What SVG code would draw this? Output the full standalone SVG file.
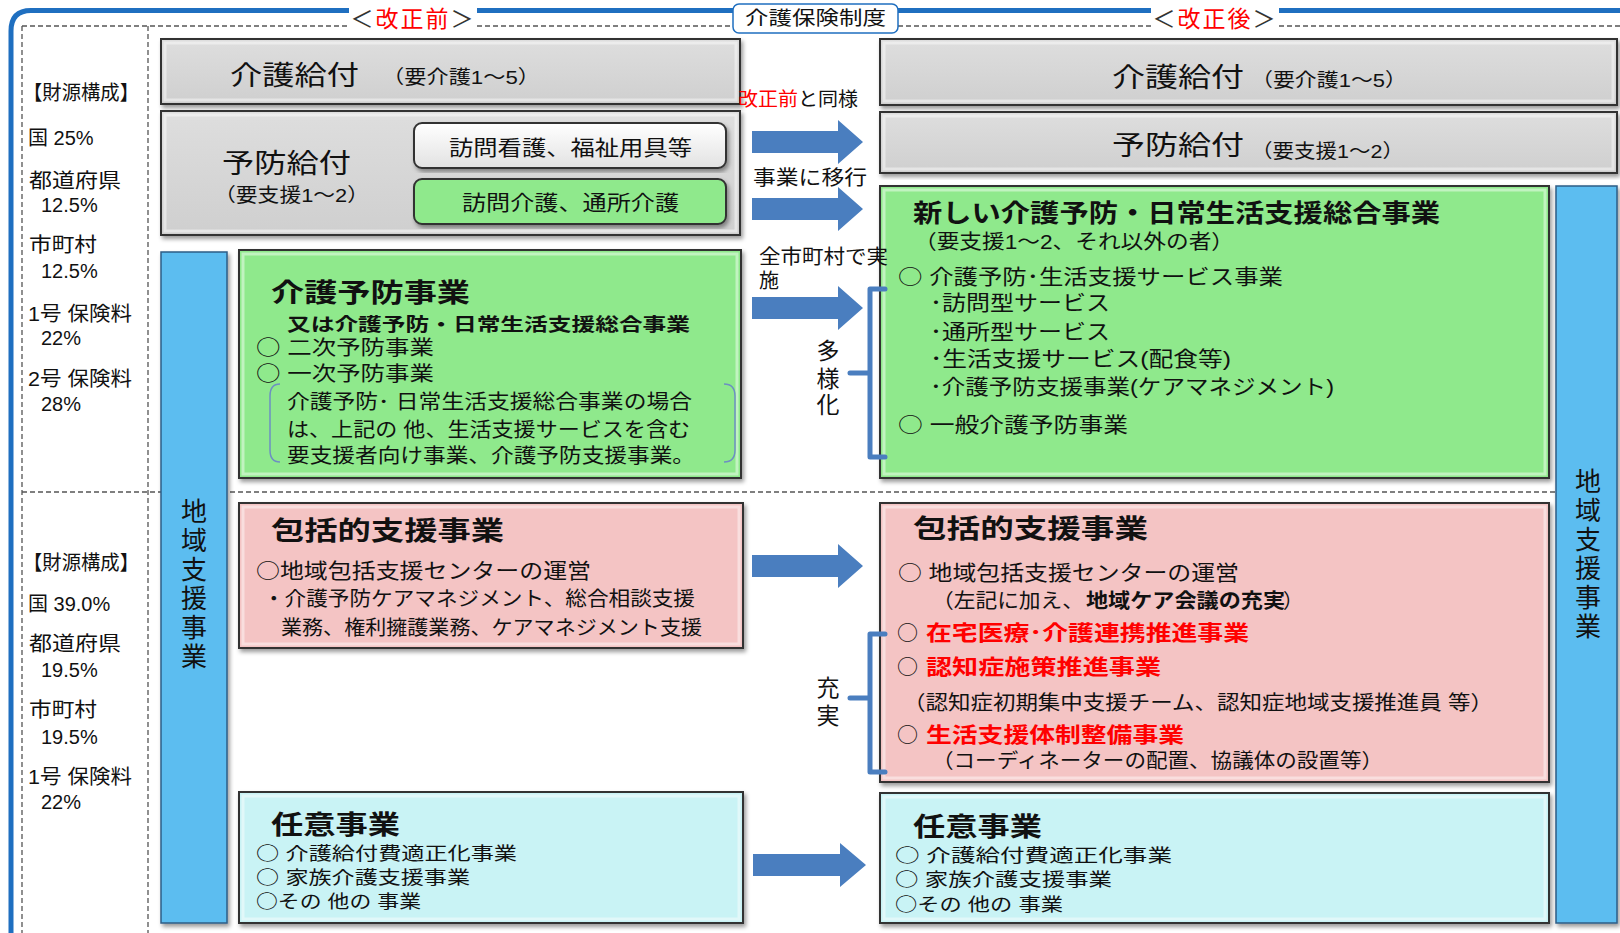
<svg xmlns="http://www.w3.org/2000/svg" width="1620" height="933" viewBox="0 0 1620 933">
<style>
text{font-family:"Liberation Sans","Noto Sans CJK JP",sans-serif;fill:#111}
.cj{font-family:"Noto Sans CJK JP","Liberation Sans",sans-serif;font-weight:normal;fill:#111}
.s18{font-size:18px}.s20{font-size:20px}.s21{font-size:21px}.s19{font-size:19px}
.b{font-weight:bold}
.big{font-size:27px}
.ttl{font-size:26px;font-weight:bold}
.red{fill:#ff0000;font-weight:bold}
.box{stroke:#333;stroke-width:2;filter:url(#sh)}
.bev{fill:none;stroke:#fff;stroke-opacity:.45;stroke-width:3}
.gray{fill:url(#gg)}
.green{fill:#8fe98c}
.pink{fill:#f4c4c4}
.cyan{fill:#c9f3f5}
.bar{fill:#5bbdf0;stroke:#2d5d86;stroke-width:1.5;filter:url(#sh)}
.dash{stroke:#555;stroke-width:1.3;stroke-dasharray:5 3;fill:none}
.arr{fill:#4a7ebf}
.brk{fill:none;stroke:#4a7ebf;stroke-width:5;stroke-linejoin:round;stroke-linecap:round}
.vt{font-size:26px;text-anchor:middle}
</style>
<defs>
<filter id="sh" x="-5%" y="-5%" width="115%" height="115%">
<feDropShadow dx="2" dy="3" stdDeviation="2" flood-color="#000" flood-opacity="0.4"/>
</filter>
<linearGradient id="gg" x1="0" y1="0" x2="0" y2="1">
<stop offset="0" stop-color="#dedede"/><stop offset="1" stop-color="#cfcfcf"/>
</linearGradient>
<linearGradient id="wg" x1="0" y1="0" x2="0" y2="1">
<stop offset="0" stop-color="#ffffff"/><stop offset="1" stop-color="#e2e2e2"/>
</linearGradient>
</defs>
<rect width="1620" height="933" fill="#fff"/>

<g id="frame">
<path d="M11,933 V31 Q11,10.5 31,10.5 H349" fill="none" stroke="#1f6fc0" stroke-width="5"/>
<path d="M477,10.5 H733 M898,10.5 H1151 M1279,10.5 H1620" fill="none" stroke="#1f6fc0" stroke-width="5"/>
<path class="dash" d="M22,26 H349 M477,26 H733 M898,26 H1151 M1279,26 H1620"/>
<path class="dash" d="M22,26 V933 M148,26 V933 M22,492 H1556"/>
</g>

<g id="top-labels">
<text x="413" y="27" text-anchor="middle" letter-spacing="2" style="font-size:23px"><tspan fill="#333">＜</tspan><tspan fill="#ff0000">改正前</tspan><tspan fill="#333">＞</tspan></text>
<g id="seido">
<rect x="733" y="4" width="165" height="29" rx="6" fill="#fff" stroke="#1f6fc0" stroke-width="1.5"/>
<text class="s19" x="745" y="25" textLength="141" lengthAdjust="spacingAndGlyphs">介護保険制度</text>
</g>
<text x="1215" y="27" text-anchor="middle" letter-spacing="2" style="font-size:23px"><tspan fill="#333">＜</tspan><tspan fill="#ff0000">改正後</tspan><tspan fill="#333">＞</tspan></text>
</g>

<g id="finance-top" class="s20">
<text x="23" y="100" textLength="116" lengthAdjust="spacingAndGlyphs">【財源構成】</text>
<text x="28" y="145">国  25%</text>
<text x="29" y="188" textLength="92" lengthAdjust="spacingAndGlyphs">都道府県</text>
<text x="41" y="212">12.5%</text>
<text x="29" y="252" textLength="68" lengthAdjust="spacingAndGlyphs">市町村</text>
<text x="41" y="278">12.5%</text>
<text x="28" y="321" textLength="104" lengthAdjust="spacingAndGlyphs">1号 保険料</text>
<text x="41" y="345">22%</text>
<text x="28" y="386" textLength="104" lengthAdjust="spacingAndGlyphs">2号 保険料</text>
<text x="41" y="411">28%</text>
</g>
<g id="finance-bottom" class="s20">
<text x="23" y="570" textLength="116" lengthAdjust="spacingAndGlyphs">【財源構成】</text>
<text x="28" y="611">国  39.0%</text>
<text x="29" y="651" textLength="92" lengthAdjust="spacingAndGlyphs">都道府県</text>
<text x="41" y="677">19.5%</text>
<text x="29" y="717" textLength="68" lengthAdjust="spacingAndGlyphs">市町村</text>
<text x="41" y="744">19.5%</text>
<text x="28" y="784" textLength="104" lengthAdjust="spacingAndGlyphs">1号 保険料</text>
<text x="41" y="809">22%</text>
</g>

<g id="L-kaigo">
<rect class="box gray" x="161" y="39" width="579" height="65"/>
<rect class="bev" x="165" y="43" width="571" height="57"/>
<text class="big" x="230" y="85" textLength="129" lengthAdjust="spacingAndGlyphs">介護給付</text>
<text class="s19" x="382" y="84" textLength="158" lengthAdjust="spacingAndGlyphs">（要介護1～5）</text>
</g>
<g id="L-yobo">
<rect class="box gray" x="161" y="111" width="579" height="124"/>
<rect class="bev" x="165" y="115" width="571" height="116"/>
<text class="big" x="222" y="173" textLength="129" lengthAdjust="spacingAndGlyphs">予防給付</text>
<text class="s19" x="214" y="202" textLength="155" lengthAdjust="spacingAndGlyphs">（要支援1～2）</text>
</g>
<g id="btn-white">
<rect x="414" y="123" width="312" height="45" rx="8" fill="url(#wg)" stroke="#333" stroke-width="2" filter="url(#sh)"/>
<text class="s21" x="449" y="155" textLength="243" lengthAdjust="spacingAndGlyphs">訪問看護、福祉用具等</text>
</g>
<g id="btn-green">
<rect x="414" y="179" width="312" height="45" rx="8" fill="#8fe98c" stroke="#333" stroke-width="2" filter="url(#sh)"/>
<text class="s21" x="462" y="210" textLength="217" lengthAdjust="spacingAndGlyphs">訪問介護、通所介護</text>
</g>

<g id="R-kaigo">
<rect class="box gray" x="880" y="39" width="737" height="66"/>
<rect class="bev" x="884" y="43" width="729" height="58"/>
<text class="big" x="1112" y="87" textLength="132" lengthAdjust="spacingAndGlyphs">介護給付</text>
<text class="s19" x="1251" y="87" textLength="156" lengthAdjust="spacingAndGlyphs">（要介護1～5）</text>
</g>
<g id="R-yobo">
<rect class="box gray" x="880" y="112" width="737" height="61"/>
<rect class="bev" x="884" y="116" width="729" height="53"/>
<text class="big" x="1112" y="155" textLength="132" lengthAdjust="spacingAndGlyphs">予防給付</text>
<text class="s19" x="1251" y="158" textLength="153" lengthAdjust="spacingAndGlyphs">（要支援1～2）</text>
</g>

<g id="L-bar">
<rect class="bar" x="161" y="252" width="66" height="671"/>
<text class="vt" x="194" y="521">地</text>
<text class="vt" x="194" y="550">域</text>
<text class="vt" x="194" y="579">支</text>
<text class="vt" x="194" y="608">援</text>
<text class="vt" x="194" y="637">事</text>
<text class="vt" x="194" y="666">業</text>
</g>
<g id="R-bar">
<rect class="bar" x="1556" y="186" width="61" height="737"/>
<text class="vt" x="1588" y="491">地</text>
<text class="vt" x="1588" y="520">域</text>
<text class="vt" x="1588" y="549">支</text>
<text class="vt" x="1588" y="578">援</text>
<text class="vt" x="1588" y="607">事</text>
<text class="vt" x="1588" y="636">業</text>
</g>

<g id="L-yobojigyo">
<rect class="box green" x="239" y="250" width="502" height="228"/>
<rect class="bev" x="243" y="254" width="494" height="220"/>
<text class="ttl" x="271" y="302" textLength="199" lengthAdjust="spacingAndGlyphs">介護予防事業</text>
<text class="b" x="287" y="331" style="font-size:18px" textLength="403" lengthAdjust="spacingAndGlyphs">又は介護予防・日常生活支援総合事業</text>
<text class="s20" x="256" y="355" textLength="178" lengthAdjust="spacingAndGlyphs"><tspan class="cj">○</tspan> 二次予防事業</text>
<text class="s20" x="256" y="381" textLength="178" lengthAdjust="spacingAndGlyphs"><tspan class="cj">○</tspan> 一次予防事業</text>
<path d="M280,384 Q270,384 270,396 V450 Q270,462 280,462 M724,384 Q735,384 735,396 V450 Q735,462 724,462" fill="none" stroke="#6d8fc2" stroke-width="1.5"/>
<text class="s20" x="287" y="409" textLength="405" lengthAdjust="spacingAndGlyphs">介護予防･ 日常生活支援総合事業の場合</text>
<text class="s20" x="287" y="437" textLength="403" lengthAdjust="spacingAndGlyphs">は、上記の 他、生活支援サービスを含む</text>
<text class="s20" x="287" y="463" textLength="408" lengthAdjust="spacingAndGlyphs">要支援者向け事業、介護予防支援事業。</text>
</g>

<g id="R-sogo">
<rect class="box green" x="880" y="186" width="669" height="292"/>
<rect class="bev" x="884" y="190" width="661" height="284"/>
<text class="b" x="913" y="222" style="font-size:25px" textLength="527" lengthAdjust="spacingAndGlyphs">新しい介護予防・日常生活支援総合事業</text>
<text class="s20" x="914" y="249" textLength="320" lengthAdjust="spacingAndGlyphs">（要支援1～2、それ以外の者）</text>
<text class="s21" x="898" y="284" textLength="385" lengthAdjust="spacingAndGlyphs"><tspan class="cj">○</tspan> 介護予防･生活支援サービス事業</text>
<text class="s21" x="930" y="310" textLength="180" lengthAdjust="spacingAndGlyphs">･訪問型サービス</text>
<text class="s21" x="930" y="339" textLength="180" lengthAdjust="spacingAndGlyphs">･通所型サービス</text>
<text class="s21" x="930" y="366" textLength="301" lengthAdjust="spacingAndGlyphs">･生活支援サービス(配食等)</text>
<text class="s21" x="930" y="394" textLength="404" lengthAdjust="spacingAndGlyphs">･介護予防支援事業(ケアマネジメント)</text>
<text class="s21" x="898" y="432" textLength="230" lengthAdjust="spacingAndGlyphs"><tspan class="cj">○</tspan> 一般介護予防事業</text>
</g>

<g id="L-hokatsu">
<rect class="box pink" x="239" y="503" width="504" height="145"/>
<rect class="bev" x="243" y="507" width="496" height="137"/>
<text class="ttl" x="271" y="540" textLength="233" lengthAdjust="spacingAndGlyphs">包括的支援事業</text>
<text class="s21" x="256" y="578" textLength="335" lengthAdjust="spacingAndGlyphs"><tspan class="cj">○</tspan>地域包括支援センターの運営</text>
<text class="s20" x="263" y="606" textLength="432" lengthAdjust="spacingAndGlyphs">・介護予防ケアマネジメント、総合相談支援</text>
<text class="s20" x="281" y="635" textLength="421" lengthAdjust="spacingAndGlyphs">業務、権利擁護業務、ケアマネジメント支援</text>
</g>

<g id="R-hokatsu">
<rect class="box pink" x="880" y="503" width="669" height="279"/>
<rect class="bev" x="884" y="507" width="661" height="271"/>
<text class="ttl" x="913" y="538" textLength="235" lengthAdjust="spacingAndGlyphs">包括的支援事業</text>
<text class="s21" x="898" y="580" textLength="341" lengthAdjust="spacingAndGlyphs"><tspan class="cj">○</tspan> 地域包括支援センターの運営</text>
<text class="s20" x="932" y="608" textLength="152" lengthAdjust="spacingAndGlyphs">（左記に加え、</text>
<text class="s20 b" x="1086" y="608" textLength="199" lengthAdjust="spacingAndGlyphs">地域ケア会議の充実</text>
<text class="s20" x="1283" y="608">）</text>
<text class="s21 cj" x="897" y="640">○</text>
<text class="s21 red" x="926" y="640" textLength="323" lengthAdjust="spacingAndGlyphs">在宅医療･介護連携推進事業</text>
<text class="s21 cj" x="897" y="674">○</text>
<text class="s21 red" x="926" y="674" textLength="235" lengthAdjust="spacingAndGlyphs">認知症施策推進事業</text>
<text class="s20" x="903" y="710" textLength="590" lengthAdjust="spacingAndGlyphs">（認知症初期集中支援チーム、認知症地域支援推進員 等）</text>
<text class="s21 cj" x="897" y="742">○</text>
<text class="s21 red" x="926" y="742" textLength="258" lengthAdjust="spacingAndGlyphs">生活支援体制整備事業</text>
<text class="s20" x="932" y="768" textLength="451" lengthAdjust="spacingAndGlyphs">（コーディネーターの配置、協議体の設置等）</text>
</g>

<g id="L-nini">
<rect class="box cyan" x="239" y="792" width="504" height="131"/>
<rect class="bev" x="243" y="796" width="496" height="123"/>
<text class="ttl" x="271" y="834" textLength="129" lengthAdjust="spacingAndGlyphs">任意事業</text>
<text class="s18" x="256" y="860" textLength="261" lengthAdjust="spacingAndGlyphs"><tspan class="cj">○</tspan> 介護給付費適正化事業</text>
<text class="s18" x="256" y="884" textLength="214" lengthAdjust="spacingAndGlyphs"><tspan class="cj">○</tspan> 家族介護支援事業</text>
<text class="s18" x="256" y="908" textLength="165" lengthAdjust="spacingAndGlyphs"><tspan class="cj">○</tspan>その 他の 事業</text>
</g>
<g id="R-nini">
<rect class="box cyan" x="880" y="793" width="669" height="130"/>
<rect class="bev" x="884" y="797" width="661" height="122"/>
<text class="ttl" x="913" y="836" textLength="129" lengthAdjust="spacingAndGlyphs">任意事業</text>
<text class="s18" x="895" y="862" textLength="277" lengthAdjust="spacingAndGlyphs"><tspan class="cj">○</tspan> 介護給付費適正化事業</text>
<text class="s18" x="895" y="886" textLength="217" lengthAdjust="spacingAndGlyphs"><tspan class="cj">○</tspan> 家族介護支援事業</text>
<text class="s18" x="895" y="911" textLength="168" lengthAdjust="spacingAndGlyphs"><tspan class="cj">○</tspan>その 他の 事業</text>
</g>

<g id="connectors">
<polygon class="arr" points="752,131 838,131 838,120 863,142 838,164 838,153 752,153"/>
<polygon class="arr" points="752,198 838,198 838,187 863,209 838,231 838,220 752,220"/>
<polygon class="arr" points="752,297 838,297 838,286 863,308 838,330 838,319 752,319"/>
<polygon class="arr" points="752,555 838,555 838,544 863,566 838,588 838,577 752,577"/>
<polygon class="arr" points="753,854 840,854 840,843 866,865 840,887 840,876 753,876"/>
<path class="brk" d="M885,289 H870 V457 H885 M870,373 H850"/>
<path class="brk" d="M885,634 H870 V772 H885 M870,698 H850"/>
</g>

<g id="mid-labels">
<text class="s19" x="738" y="106" textLength="120" lengthAdjust="spacingAndGlyphs"><tspan fill="#ff0000">改正前</tspan>と同様</text>
<text class="s20" x="753" y="185" textLength="114" lengthAdjust="spacingAndGlyphs">事業に移行</text>
<text class="s20" x="759" y="264" textLength="129" lengthAdjust="spacingAndGlyphs">全市町村で実</text>
<text class="s20" x="759" y="288">施</text>
<text x="828" y="359" text-anchor="middle" style="font-size:23px">多</text>
<text x="828" y="387" text-anchor="middle" style="font-size:23px">様</text>
<text x="828" y="413" text-anchor="middle" style="font-size:23px">化</text>
<text x="828" y="696" text-anchor="middle" style="font-size:23px">充</text>
<text x="828" y="724" text-anchor="middle" style="font-size:23px">実</text>
</g>
</svg>
